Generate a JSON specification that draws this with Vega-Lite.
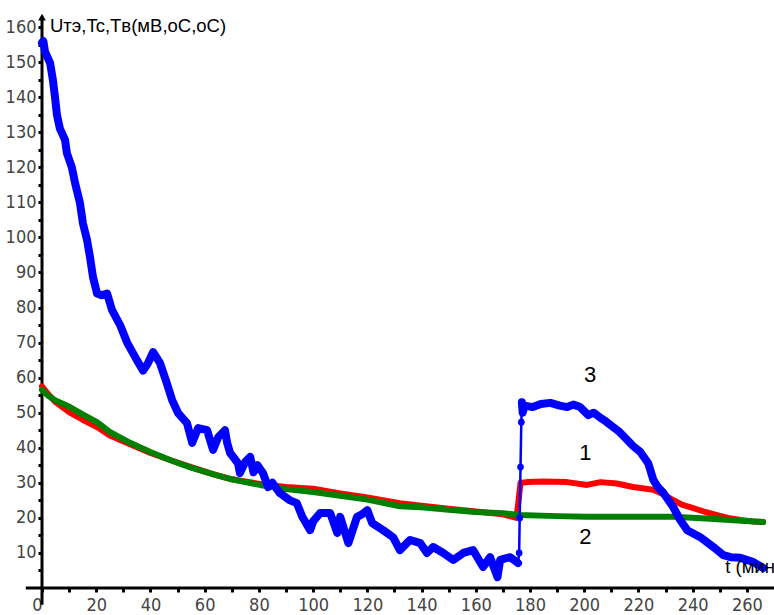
{
  "$schema": "https://vega.github.io/schema/vega-lite/v6.json",
  "width": 732,
  "height": 575,
  "autosize": "none",
  "padding": {"left": 42, "top": 13, "right": 0, "bottom": 27},
  "background": "white",
  "config": {"view": {"stroke": null}, "font": "Liberation Sans"},
  "datasets": {
    "blue": [
      {"t": 0, "v": 155.5, "seg": "pre"}, {"t": 0.5, "v": 156, "seg": "pre"}, {"t": 1.1, "v": 153, "seg": "pre"},
      {"t": 3, "v": 149.7, "seg": "pre"}, {"t": 4, "v": 145, "seg": "pre"}, {"t": 4.8, "v": 140, "seg": "pre"},
      {"t": 5.5, "v": 135, "seg": "pre"}, {"t": 6.6, "v": 131, "seg": "pre"}, {"t": 8.5, "v": 127.8, "seg": "pre"},
      {"t": 9.2, "v": 124, "seg": "pre"}, {"t": 11, "v": 120, "seg": "pre"}, {"t": 12.2, "v": 115.5, "seg": "pre"},
      {"t": 14, "v": 109.8, "seg": "pre"}, {"t": 15.1, "v": 104, "seg": "pre"}, {"t": 16.6, "v": 99.3, "seg": "pre"},
      {"t": 17.7, "v": 94.4, "seg": "pre"}, {"t": 18.8, "v": 88.7, "seg": "pre"}, {"t": 20.3, "v": 84, "seg": "pre"},
      {"t": 22, "v": 83.5, "seg": "pre"}, {"t": 24, "v": 84, "seg": "pre"}, {"t": 25.8, "v": 79.3, "seg": "pre"},
      {"t": 28.8, "v": 75, "seg": "pre"}, {"t": 31.4, "v": 70, "seg": "pre"}, {"t": 35, "v": 65, "seg": "pre"},
      {"t": 37.3, "v": 62, "seg": "pre"}, {"t": 39, "v": 64, "seg": "pre"}, {"t": 41, "v": 67.3, "seg": "pre"},
      {"t": 43.5, "v": 64.2, "seg": "pre"}, {"t": 46, "v": 58.5, "seg": "pre"}, {"t": 48, "v": 53.6, "seg": "pre"},
      {"t": 50.2, "v": 49.9, "seg": "pre"}, {"t": 53.5, "v": 47, "seg": "pre"}, {"t": 55.4, "v": 41.4, "seg": "pre"},
      {"t": 57.6, "v": 45.6, "seg": "pre"}, {"t": 60.9, "v": 45, "seg": "pre"}, {"t": 63.1, "v": 39.4, "seg": "pre"},
      {"t": 65, "v": 43, "seg": "pre"}, {"t": 67.5, "v": 45, "seg": "pre"}, {"t": 68.3, "v": 41.4, "seg": "pre"},
      {"t": 69.4, "v": 38.5, "seg": "pre"}, {"t": 72.3, "v": 35.6, "seg": "pre"}, {"t": 73, "v": 32.8, "seg": "pre"},
      {"t": 75, "v": 36, "seg": "pre"}, {"t": 76.8, "v": 37.4, "seg": "pre"}, {"t": 78, "v": 33, "seg": "pre"},
      {"t": 79.5, "v": 35, "seg": "pre"}, {"t": 81.5, "v": 32.8, "seg": "pre"}, {"t": 83.4, "v": 28.8, "seg": "pre"},
      {"t": 85, "v": 30, "seg": "pre"}, {"t": 87.8, "v": 27, "seg": "pre"}, {"t": 91.5, "v": 25, "seg": "pre"},
      {"t": 94, "v": 24.2, "seg": "pre"}, {"t": 96, "v": 20.3, "seg": "pre"}, {"t": 98.9, "v": 16.5, "seg": "pre"},
      {"t": 100, "v": 19, "seg": "pre"}, {"t": 102.6, "v": 21.4, "seg": "pre"}, {"t": 106.3, "v": 21.4, "seg": "pre"},
      {"t": 108.9, "v": 15.7, "seg": "pre"}, {"t": 110, "v": 20.3, "seg": "pre"}, {"t": 113, "v": 12.8, "seg": "pre"},
      {"t": 116.2, "v": 20.3, "seg": "pre"}, {"t": 118, "v": 21, "seg": "pre"}, {"t": 120, "v": 22.2, "seg": "pre"},
      {"t": 121.8, "v": 18.5, "seg": "pre"}, {"t": 125.8, "v": 16.5, "seg": "pre"}, {"t": 129.5, "v": 14.5, "seg": "pre"},
      {"t": 132, "v": 10.8, "seg": "pre"}, {"t": 135.8, "v": 13.7, "seg": "pre"}, {"t": 139.5, "v": 12.8, "seg": "pre"},
      {"t": 142, "v": 10, "seg": "pre"}, {"t": 144.3, "v": 11.7, "seg": "pre"}, {"t": 148, "v": 10, "seg": "pre"},
      {"t": 151.7, "v": 8, "seg": "pre"}, {"t": 155.4, "v": 10, "seg": "pre"}, {"t": 159, "v": 10.8, "seg": "pre"},
      {"t": 162.7, "v": 6, "seg": "pre"}, {"t": 165.3, "v": 8.8, "seg": "pre"}, {"t": 168, "v": 3.1, "seg": "pre"},
      {"t": 169, "v": 8, "seg": "pre"}, {"t": 172.7, "v": 8.8, "seg": "pre"}, {"t": 175.6, "v": 7.1, "seg": "pre"},
      {"t": 175.6, "v": 7.1, "seg": "jump"}, {"t": 176, "v": 10, "seg": "jump"}, {"t": 176.2, "v": 20, "seg": "jump"},
      {"t": 176.5, "v": 34.5, "seg": "jump"}, {"t": 176.8, "v": 47.3, "seg": "jump"}, {"t": 177, "v": 53, "seg": "jump"},
      {"t": 177, "v": 53, "seg": "post"}, {"t": 177.3, "v": 50, "seg": "post"}, {"t": 178, "v": 52, "seg": "post"},
      {"t": 181, "v": 51.6, "seg": "post"}, {"t": 184, "v": 52.5, "seg": "post"}, {"t": 187.5, "v": 52.8, "seg": "post"},
      {"t": 191, "v": 52, "seg": "post"}, {"t": 193.7, "v": 51.6, "seg": "post"}, {"t": 196, "v": 52.3, "seg": "post"},
      {"t": 198.5, "v": 51.6, "seg": "post"}, {"t": 201.5, "v": 49.3, "seg": "post"}, {"t": 203.5, "v": 50, "seg": "post"},
      {"t": 206, "v": 48.5, "seg": "post"}, {"t": 208, "v": 47.5, "seg": "post"}, {"t": 210.7, "v": 45.9, "seg": "post"},
      {"t": 213, "v": 44.5, "seg": "post"}, {"t": 215.9, "v": 42.2, "seg": "post"}, {"t": 218, "v": 40.5, "seg": "post"},
      {"t": 220.7, "v": 38.8, "seg": "post"}, {"t": 223.6, "v": 35.6, "seg": "post"}, {"t": 225.5, "v": 30.8, "seg": "post"},
      {"t": 227, "v": 29, "seg": "post"}, {"t": 229.2, "v": 27.1, "seg": "post"}, {"t": 232.8, "v": 23.1, "seg": "post"},
      {"t": 235.4, "v": 19.4, "seg": "post"}, {"t": 238, "v": 16.5, "seg": "post"}, {"t": 242.8, "v": 14.5, "seg": "post"},
      {"t": 247.6, "v": 11.7, "seg": "post"}, {"t": 251.3, "v": 9.4, "seg": "post"}, {"t": 254, "v": 8.8, "seg": "post"},
      {"t": 257.6, "v": 8.6, "seg": "post"}, {"t": 262.4, "v": 7.4, "seg": "post"}, {"t": 266, "v": 5.7, "seg": "post"}
    ],
    "red": [
      {"t": 0, "v": 57.5}, {"t": 2, "v": 55.5}, {"t": 5, "v": 53}, {"t": 10.3, "v": 50}, {"t": 15, "v": 48},
      {"t": 20.3, "v": 45.9}, {"t": 25, "v": 43.5}, {"t": 32.5, "v": 41}, {"t": 40, "v": 38.5}, {"t": 47.2, "v": 36.5},
      {"t": 55, "v": 34.5}, {"t": 63, "v": 32.5}, {"t": 70, "v": 31}, {"t": 81.5, "v": 29.5}, {"t": 90, "v": 28.8},
      {"t": 100, "v": 28.3}, {"t": 110, "v": 27}, {"t": 120, "v": 25.8}, {"t": 132, "v": 24.2}, {"t": 140, "v": 23.5},
      {"t": 150, "v": 22.6}, {"t": 160, "v": 21.8}, {"t": 170, "v": 21}, {"t": 175, "v": 20}, {"t": 175.8, "v": 25},
      {"t": 176.5, "v": 30}, {"t": 179, "v": 30.2}, {"t": 185, "v": 30.4}, {"t": 193.7, "v": 30.2}, {"t": 201, "v": 29.4},
      {"t": 206, "v": 30.2}, {"t": 212, "v": 29.8}, {"t": 218, "v": 28.8}, {"t": 225.5, "v": 28}, {"t": 229, "v": 26.8},
      {"t": 232.8, "v": 25.1}, {"t": 236, "v": 23.8}, {"t": 240.2, "v": 22.8}, {"t": 245, "v": 21.6}, {"t": 249, "v": 20.8},
      {"t": 253, "v": 20}, {"t": 257.6, "v": 19.4}, {"t": 262, "v": 19}, {"t": 266, "v": 18.8}
    ],
    "green": [
      {"t": 0, "v": 56.5}, {"t": 2, "v": 55}, {"t": 5, "v": 53.5}, {"t": 10.3, "v": 51.6}, {"t": 15, "v": 49.5},
      {"t": 20.3, "v": 47.3}, {"t": 25, "v": 44.5}, {"t": 32.5, "v": 41.4}, {"t": 40, "v": 38.8}, {"t": 47.2, "v": 36.5},
      {"t": 55, "v": 34.3}, {"t": 63, "v": 32.5}, {"t": 70, "v": 31}, {"t": 81.5, "v": 29.2}, {"t": 90, "v": 28.2},
      {"t": 100, "v": 27.4}, {"t": 110, "v": 26.3}, {"t": 120, "v": 25.2}, {"t": 132, "v": 23.3}, {"t": 140, "v": 23},
      {"t": 150, "v": 22.3}, {"t": 160, "v": 21.7}, {"t": 170, "v": 21.3}, {"t": 176, "v": 20.8}, {"t": 190, "v": 20.5},
      {"t": 201, "v": 20.3}, {"t": 220, "v": 20.3}, {"t": 232.8, "v": 20.3}, {"t": 245, "v": 19.8}, {"t": 255, "v": 19.3},
      {"t": 266, "v": 18.8}
    ],
    "axislines": [
      {"t": 0, "v": -4.8, "t2": 0, "v2": 162},
      {"t": -6, "v": 0, "t2": 270, "v2": 0}
    ],
    "arrow": [{"t": 0, "v": 162.8}],
    "labels": [
      {"t": 202.2, "v": 60.8, "text": "3", "kind": "num"},
      {"t": 200.4, "v": 38.5, "text": "1", "kind": "num"},
      {"t": 200.4, "v": 14.5, "text": "2", "kind": "num"},
      {"t": 2.95, "v": 160.2, "text": "Uтэ,Tc,Tв(мВ,oC,oC)", "kind": "title"},
      {"t": 252, "v": 6, "text": "t (мин", "kind": "title"}
    ]
  },
  "encoding": {
    "x": {
      "field": "t", "type": "quantitative",
      "scale": {"domain": [0, 270], "nice": false, "zero": false},
      "axis": {
        "values": [0, 10, 20, 30, 40, 50, 60, 70, 80, 90, 100, 110, 120, 130, 140, 150, 160, 170, 180, 190, 200, 210, 220, 230, 240, 250, 260],
        "labelExpr": "datum.value % 20 == 0 ? datum.label : ''",
        "domain": false, "grid": false, "title": null,
        "tickColor": "black", "tickWidth": 3, "tickSize": 4,
        "labelFont": "Liberation Sans Narrow, DejaVu Sans Condensed, Liberation Sans",
        "labelFontSize": 18, "labelColor": "#444", "labelPadding": 4,
        "labelFlush": false, "labelOverlap": false,
        "labelAlign": {"condition": {"test": "datum.value == 0", "value": "right"}, "value": "center"}
      }
    },
    "y": {
      "field": "v", "type": "quantitative",
      "scale": {"domain": [0, 164], "nice": false, "zero": false},
      "axis": {
        "values": [5, 10, 15, 20, 25, 30, 35, 40, 45, 50, 55, 60, 65, 70, 75, 80, 85, 90, 95, 100, 105, 110, 115, 120, 125, 130, 135, 140, 145, 150, 155, 160],
        "labelExpr": "datum.value % 10 == 0 ? datum.label : ''",
        "domain": false, "grid": false, "title": null,
        "tickColor": "black", "tickWidth": 3, "tickSize": 4,
        "labelFont": "Liberation Sans Narrow, DejaVu Sans Condensed, Liberation Sans",
        "labelFontSize": 18, "labelColor": "#444", "labelPadding": 2,
        "labelFlush": false, "labelOverlap": false
      }
    }
  },
  "layer": [
    {
      "data": {"name": "axislines"},
      "mark": {"type": "rule", "color": "black", "strokeWidth": 3},
      "encoding": {"x2": {"field": "t2"}, "y2": {"field": "v2"}}
    },
    {
      "data": {"name": "arrow"},
      "mark": {"type": "point", "shape": "triangle-up", "filled": true, "color": "black", "size": 60, "opacity": 1},
      "encoding": {}
    },
    {
      "data": {"name": "red"},
      "mark": {"type": "line", "color": "#ff0000", "strokeWidth": 6, "strokeJoin": "round", "strokeCap": "round"},
      "encoding": {}
    },
    {
      "data": {"name": "green"},
      "mark": {"type": "line", "color": "#008000", "strokeWidth": 6, "strokeJoin": "round", "strokeCap": "round"},
      "encoding": {}
    },
    {
      "data": {"name": "blue"},
      "transform": [{"filter": "datum.seg == 'jump'"}],
      "mark": {"type": "line", "color": "#0000ff", "strokeWidth": 2.5, "point": {"filled": true, "color": "#0000ff", "size": 45, "opacity": 1}},
      "encoding": {}
    },
    {
      "data": {"name": "blue"},
      "transform": [{"filter": "datum.seg != 'jump'"}],
      "mark": {"type": "line", "color": "#0000ff", "strokeWidth": 8, "strokeJoin": "round", "strokeCap": "round"},
      "encoding": {"detail": {"field": "seg"}}
    },
    {
      "data": {"name": "labels"},
      "transform": [{"filter": "datum.kind == 'num'"}],
      "mark": {"type": "text", "fontSize": 22, "color": "black", "align": "center", "baseline": "middle"},
      "encoding": {"text": {"field": "text"}}
    },
    {
      "data": {"name": "labels"},
      "transform": [{"filter": "datum.kind == 'title'"}],
      "mark": {"type": "text", "fontSize": 18.5, "color": "black", "align": "left", "baseline": "middle"},
      "encoding": {"text": {"field": "text"}}
    }
  ]
}
